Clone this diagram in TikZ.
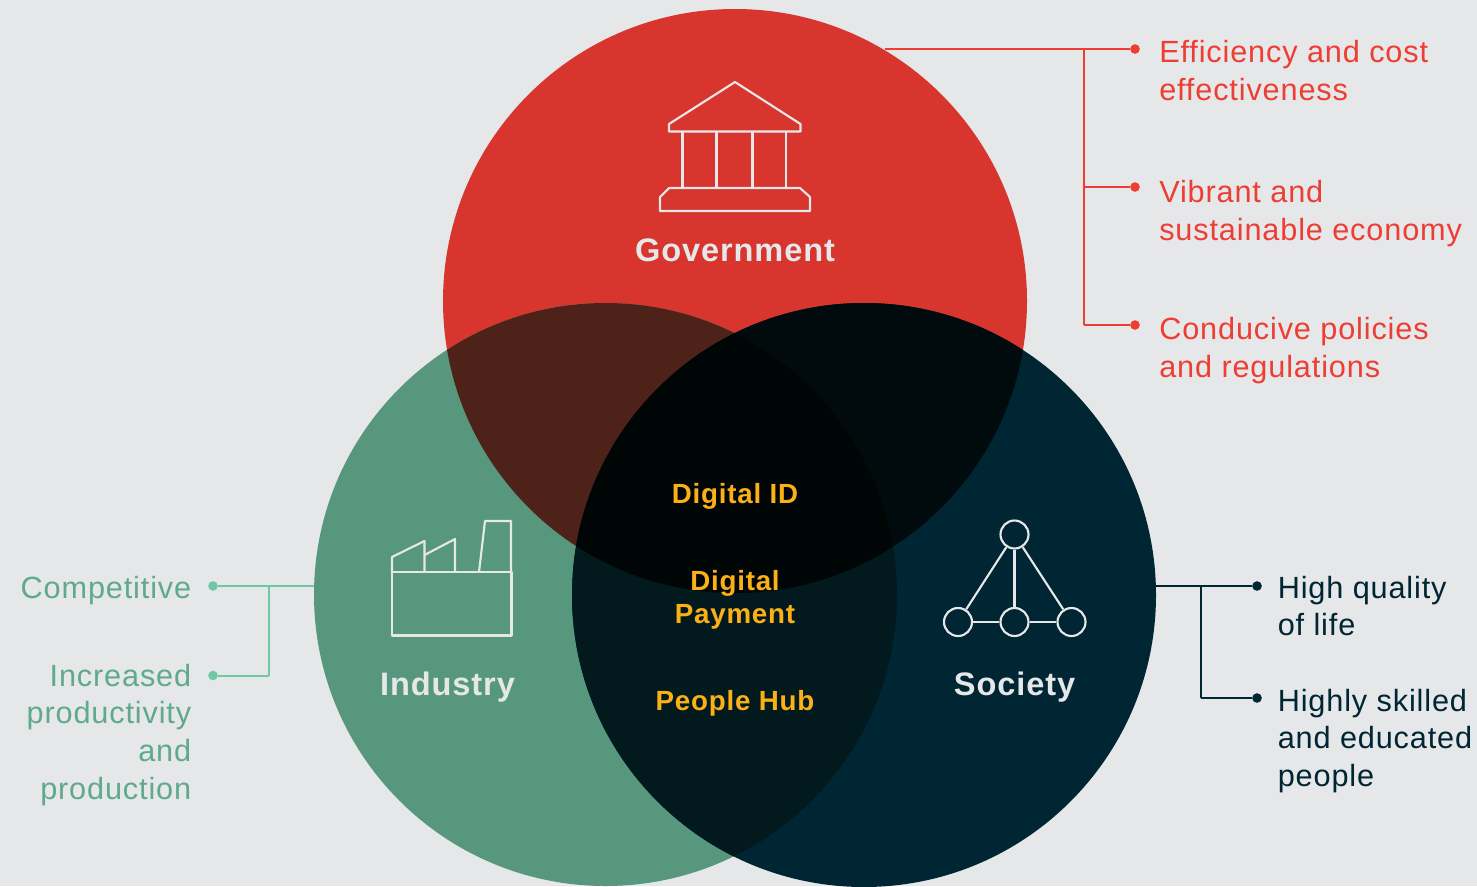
\documentclass[tikz,border=0pt]{standalone}
\usepackage{fontspec}
\setmainfont{Liberation Sans}[LetterSpace=2.8]
\definecolor{bgc}{HTML}{E6E7E9}
\definecolor{redc}{HTML}{D7352D}
\definecolor{greenc}{HTML}{57977D}
\definecolor{navyc}{HTML}{002533}
\definecolor{rgc}{HTML}{4E2119}
\definecolor{rnc}{HTML}{010A0C}
\definecolor{gnc}{HTML}{02191D}
\definecolor{allc}{HTML}{000606}
\definecolor{amberc}{HTML}{FBB016}
\definecolor{iconc}{HTML}{E6E7E9}
\definecolor{redt}{HTML}{EE3E33}
\definecolor{greent}{HTML}{5FAA8C}
\definecolor{greenl}{HTML}{72C7A3}
\definecolor{navyt}{HTML}{002533}
\tikzset{
  lbl/.style={font=\fontsize{23}{28.3}\selectfont,inner sep=0pt,align=left,anchor=north west},
  lblr/.style={font=\fontsize{23}{28.3}\selectfont,inner sep=0pt,align=right,anchor=north east},
  head/.style={font=\bfseries\fontsize{24.4}{30}\selectfont,text=iconc,inner sep=0pt,anchor=center},
  core/.style={font=\bfseries\fontsize{20.8}{25}\selectfont,text=amberc,inner sep=0pt,align=center,anchor=center},
  icon/.style={draw=iconc,line width=1.6,line join=round,fill=none},
  ring/.style={circle,draw=iconc,line width=1.6,minimum size=21,inner sep=0pt},
  dot/.style={circle,inner sep=0pt,minimum size=7.2,fill=#1},
  conn/.style={line width=1.5,draw=#1},
}
\begin{document}
\begin{tikzpicture}[x=0.75pt,y=-0.75pt]
\useasboundingbox (0,0) rectangle (1477,886);
\fill[bgc] (0,0) rectangle (1477,886);
\def\gov{(735,301) circle[radius=292*0.75pt]}
\def\ind{(605.5,594.5) circle[radius=291.5*0.75pt]}
\def\soc{(864,595) circle[radius=292*0.75pt]}
\begin{scope}
\clip (0,0) rectangle (1477,886);
\fill[redc] \gov;
\fill[greenc] \ind;
\fill[navyc] \soc;
\begin{scope}\clip \gov; \fill[rgc] \ind; \fill[rnc] \soc; \end{scope}
\begin{scope}\clip \ind; \fill[gnc] \soc; \end{scope}
\begin{scope}\clip \gov; \clip \ind; \fill[allc] \soc; \end{scope}
\end{scope}
% government icon
\draw[icon] (669,131.5) -- (669,124) -- (735,82) -- (800.5,124) -- (800.5,131.5) -- cycle;
\draw[icon] (682.5,131.5) -- (682.5,188) (716.5,131.5) -- (716.5,188) (752.5,131.5) -- (752.5,188) (786,131.5) -- (786,188);
\draw[icon] (669,188) -- (800,188) -- (810,197) -- (810,211) -- (660,211) -- (660,197) -- cycle;
% industry icon
\draw[icon] (392,572) rectangle (511.5,635.5);
\draw[icon] (392,572) -- (392,557) -- (424.5,541) -- (424.5,572);
\draw[icon] (424.5,555) -- (455,539) -- (455,572);
\draw[icon] (479,572) -- (485,521) -- (511,521) -- (511,572);
% society icon
\node[ring] (st) at (1014.5,534.5) {};
\node[ring] (sl) at (958,622) {};
\node[ring] (sm) at (1014.5,622) {};
\node[ring] (sr) at (1071.5,622) {};
\draw[icon] (st) -- (sl); \draw[icon] (st) -- (sm); \draw[icon] (st) -- (sr);
\draw[icon] (sl) -- (sm); \draw[icon] (sm) -- (sr);
% headings
\node[head] (hg) at (735,250.5) {Government};
\node[head] (hi) at (447.5,687) {Industry};
\node[head] (hs) at (1014.5,687) {Society};
\node[core] (c1) at (735,496) {Digital ID};
\node[core] (c2) at (735,600) {Digital\\Payment};
\node[core] (c3) at (735,703) {People Hub};
% right red
\coordinate (gs) at (885,49);
\coordinate (gj1) at (1084,49);
\coordinate (gj2) at (1084,187);
\coordinate (gj3) at (1084,325);
\node[dot=redt] (gd1) at (1135,49) {};
\node[dot=redt] (gd2) at (1135,187) {};
\node[dot=redt] (gd3) at (1135,325) {};
\draw[conn=redt] (gs) -- (gd1);
\draw[conn=redt] (gj1) -- (gj3);
\draw[conn=redt] (gj2) -- (gd2);
\draw[conn=redt] (gj3) -- (gd3);
\node[lbl,text=redt] (t1) at (1159,40.5) {Efficiency and cost\\effectiveness};
\node[lbl,text=redt] (t2) at (1159,180.5) {Vibrant and\\sustainable economy};
\node[lbl,text=redt] (t3) at (1159,317.5) {Conducive policies\\and regulations};
% right navy
\coordinate (ss) at (1156,586);
\coordinate (sj1) at (1201,586);
\coordinate (sj2) at (1201,698);
\node[dot=navyt] (sd1) at (1257,586) {};
\node[dot=navyt] (sd2) at (1257,698) {};
\draw[conn=navyt] (ss) -- (sd1);
\draw[conn=navyt] (sj1) -- (sj2);
\draw[conn=navyt] (sj2) -- (sd2);
\node[lbl,text=navyt] (t4) at (1277.5,575.5) {High quality\\of life};
\node[lbl,text=navyt] (t5) at (1277.5,688.5) {Highly skilled\\and educated\\people};
% left green
\coordinate (is) at (314,586);
\coordinate (ij1) at (269,586);
\coordinate (ij2) at (269,675.5);
\node[dot=greenl] (id1) at (213,586) {};
\node[dot=greenl] (id2) at (213,675.5) {};
\draw[conn=greenl] (is) -- (id1);
\draw[conn=greenl] (ij1) -- (ij2);
\draw[conn=greenl] (ij2) -- (id2);
\node[lblr,text=greent] (t6) at (191.5,575.5) {Competitive};
\node[lblr,text=greent] (t7) at (191.5,663.5) {Increased\\productivity\\and\\production};
\end{tikzpicture}
\end{document}
